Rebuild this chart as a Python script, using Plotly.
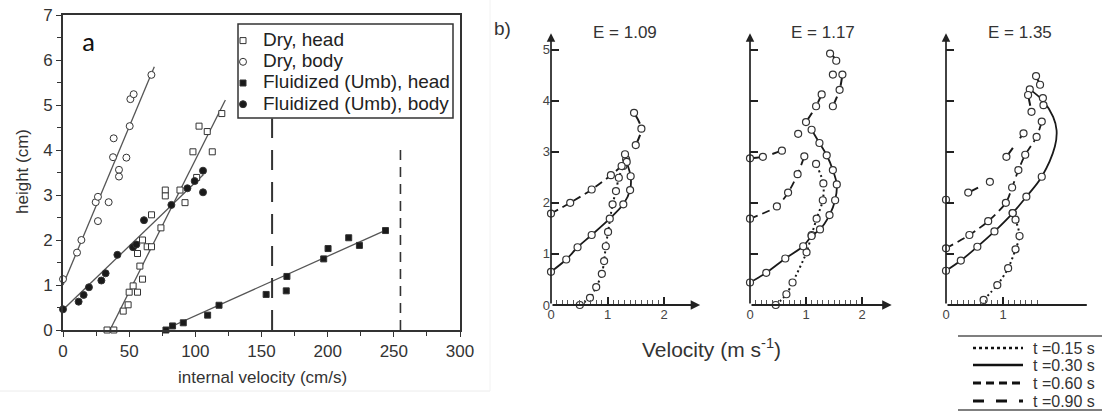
import numpy as np
import plotly.graph_objects as go

W, H = 1102, 412
def X(px): return px / W
def Y(py): return 1 - py / H

FONT = "Liberation Sans, Arial, sans-serif"
INK = "#2b2b2b"

# ---------------- Panel a data ----------------
dry_head_x = [33.3, 38.4, 45.5, 49.2, 50.0, 53.0, 56.3, 60.1, 58.1, 56.3, 60.1, 63.6, 66.9, 66.9, 74.0,
              77.3, 77.3, 88.4, 92.2, 101.0, 98.2, 102.8, 109.0, 112.8, 120.0]
dry_head_y = [0.0, 0.0, 0.42, 0.56, 0.84, 0.98, 0.84, 1.13, 1.42, 1.70, 2.00, 1.85, 1.85, 2.56, 2.27,
              3.11, 2.98, 3.11, 2.83, 3.39, 3.96, 4.53, 4.41, 3.96, 4.81]
dry_body_x = [0.0, 10.6, 13.9, 24.7, 26.4, 26.4, 34.5, 37.8, 38.3, 42.3, 42.3, 47.9, 50.4, 50.9, 53.4, 66.8]
dry_body_y = [1.13, 1.72, 2.00, 2.84, 2.96, 2.42, 2.84, 3.84, 4.26, 3.56, 3.41, 3.83, 4.53, 5.13, 5.24, 5.67]
fl_head_x = [77.8, 82.8, 90.9, 109.3, 117.9, 153.5, 169.2, 168.7, 197.0, 200.3, 215.9, 224.0, 243.7]
fl_head_y = [0.0, 0.09, 0.16, 0.33, 0.55, 0.79, 1.19, 0.87, 1.58, 1.81, 2.05, 1.88, 2.21]
fl_body_x = [0.0, 11.8, 15.6, 19.6, 29.0, 32.2, 41.1, 52.9, 55.4, 61.2, 81.9, 94.0, 99.5, 105.8, 105.8]
fl_body_y = [0.46, 0.63, 0.78, 0.95, 1.10, 1.26, 1.67, 1.84, 1.90, 2.44, 2.78, 3.15, 3.31, 3.54, 3.06]

# fitted lines (end points)
fit_dry_head_x = [35.5, 122.7]; fit_dry_head_y = [0.0, 5.11]
fit_dry_body_x = [0.0, 69.0];   fit_dry_body_y = [1.0, 5.85]
fit_fl_head_x = [76.0, 244.0];  fit_fl_head_y = [0.0, 2.22]
fit_fl_body_x = [0.0, 106.0];   fit_fl_body_y = [0.45, 3.45]

# vertical reference lines
vline1_x = [158, 158]; vline1_y = [0, 4.7]
vline2_x = [255, 255]; vline2_y = [0, 4.0]

legend_a = ["Dry, head", "Dry, body", "Fluidized (Umb), head", "Fluidized (Umb), body"]
xticks_a = [0, 50, 100, 150, 200, 250, 300]
yticks_a = [0, 1, 2, 3, 4, 5, 6, 7]

# ---------------- Panel b data ----------------
E_labels = ["E = 1.09", "E = 1.17", "E = 1.35"]
time_labels = ["t =0.15 s", "t =0.30 s", "t =0.60 s", "t =0.90 s"]

p1_t015_x = [0.51, 0.69, 0.80, 0.90, 0.94, 0.97, 1.01, 1.09, 1.15, 1.20, 1.28, 1.33]
p1_t015_y = [0.00, 0.14, 0.35, 0.61, 0.86, 1.15, 1.43, 1.97, 2.23, 2.49, 2.72, 2.85]
p1_t030_x = [0.00, 0.27, 0.47, 0.72, 1.04, 1.28, 1.40, 1.41, 1.34, 1.31]
p1_t030_y = [0.65, 0.89, 1.13, 1.37, 1.69, 1.97, 2.25, 2.52, 2.80, 2.95]
p1_t060_x = [0.00, 0.34, 0.72, 1.06, 1.25]
p1_t060_y = [1.79, 2.00, 2.26, 2.54, 2.72]
p1_t090_x = [1.50, 1.60, 1.47]
p1_t090_y = [3.13, 3.45, 3.76]

p2_t015_x = [0.46, 0.65, 0.76, 1.01, 1.10, 1.19, 1.30, 1.31, 1.18, None, 0.86]
p2_t015_y = [0.00, 0.21, 0.44, 1.03, 1.37, 1.69, 2.05, 2.38, 2.76, None, 3.35]
p2_t030_x = [0.00, 0.29, 0.63, 0.95, 1.10, 1.25, 1.42, 1.52, 1.55, 1.48, 1.37, 1.24, 1.10]
p2_t030_y = [0.44, 0.63, 0.91, 1.15, 1.35, 1.48, 1.76, 2.05, 2.36, 2.64, 2.93, 3.17, 3.43]
p2_t060_x = [0.00, 0.48, 0.68, 0.85, 0.97]
p2_t060_y = [1.69, 1.93, 2.20, 2.56, 2.91]
p2_t090_x = [0.00, 0.23, 0.57, None, 1.00, 1.18, 1.28, None, 1.43, 1.54, 1.48, None, 1.65, 1.60, 1.48]
p2_t090_y = [2.87, 2.90, 3.02, None, 3.58, 3.89, 4.12, None, 4.92, 4.78, 4.51, None, 4.51, 4.21, 3.89]

p3_t015_x = [0.66, 0.90, 1.09, 1.22, 1.29, 1.22, 1.17]
p3_t015_y = [0.10, 0.39, 0.72, 1.09, 1.35, 1.67, 1.80]
p3_t030_x = [0.00, 0.26, 0.55, 0.85, 1.17, 1.41, 1.68, 1.71, 1.70, 1.47]
p3_t030_y = [0.67, 0.87, 1.14, 1.44, 1.80, 2.12, 2.51, 3.91, 4.05, 4.22]
p3_t030_curve_x = [0.00, 0.26, 0.55, 0.85, 1.17, 1.41, 1.68, 1.91, 1.94, 1.88, 1.70, 1.47]
p3_t030_curve_y = [0.67, 0.87, 1.14, 1.44, 1.80, 2.12, 2.51, 3.10, 3.42, 3.68, 4.00, 4.22]
p3_t060_x = [0.00, 0.41, 0.74, 1.05, 1.16, 1.27, 1.39, 1.59, 1.68]
p3_t060_y = [1.11, 1.37, 1.64, 2.00, 2.30, 2.64, 2.94, 3.29, 3.59]
p3_t090_x = [0.00, None, 0.39, 0.77, None, 1.06, 1.36, None, 1.44, 1.50, None, 1.58, 1.65]
p3_t090_y = [2.06, None, 2.20, 2.41, None, 2.90, 3.36, None, 4.11, 3.78, None, 4.48, 4.31]

xticks_b = [[0, 1, 2], [0, 1, 2], [0, 1]]
hatch_end = [2.0, 1.9, 1.6]
yticks_b = [0, 1, 2, 3, 4, 5]

# ---------------- Figure ----------------
fig = go.Figure()

# Panel a fitted lines
for fx, fy in [(fit_dry_head_x, fit_dry_head_y), (fit_dry_body_x, fit_dry_body_y),
               (fit_fl_head_x, fit_fl_head_y), (fit_fl_body_x, fit_fl_body_y)]:
    fig.add_trace(go.Scatter(x=fx, y=fy, mode="lines", line=dict(color="#555", width=1.3),
                             showlegend=False, hoverinfo="skip", xaxis="x", yaxis="y"))
fig.add_trace(go.Scatter(x=vline1_x, y=vline1_y, mode="lines", showlegend=False,
                         line=dict(color="#333", width=2, dash="20px,12px"), xaxis="x", yaxis="y"))
fig.add_trace(go.Scatter(x=vline2_x, y=vline2_y, mode="lines", showlegend=False,
                         line=dict(color="#333", width=1.6, dash="10px,7px"), xaxis="x", yaxis="y"))

a_series = [
    (dry_head_x, dry_head_y, "square", "white", 6),
    (dry_body_x, dry_body_y, "circle", "white", 7),
    (fl_head_x, fl_head_y, "square", "#1a1a1a", 6),
    (fl_body_x, fl_body_y, "circle", "#1a1a1a", 7),
]
for (sx, sy, sym, fill, sz), name in zip(a_series, legend_a):
    fig.add_trace(go.Scatter(x=sx, y=sy, mode="markers", cliponaxis=False,
                             name="<span style='font-size:19px'>%s</span>" % name,
                             marker=dict(symbol=sym, size=sz, color=fill,
                                         line=dict(color="#333", width=1)),
                             xaxis="x", yaxis="y"))

# Panel b
dashes = ["2px,3px", "solid", "8px,5px", "11px,12px"]
widths = [2.0, 1.8, 1.8, 2.0]
b_panels = [
    [(p1_t015_x, p1_t015_y), (p1_t030_x, p1_t030_y), (p1_t060_x, p1_t060_y), (p1_t090_x, p1_t090_y)],
    [(p2_t015_x, p2_t015_y), (p2_t030_x, p2_t030_y), (p2_t060_x, p2_t060_y), (p2_t090_x, p2_t090_y)],
    [(p3_t015_x, p3_t015_y), (p3_t030_x, p3_t030_y), (p3_t060_x, p3_t060_y), (p3_t090_x, p3_t090_y)],
]
marker_b = dict(symbol="circle", size=7, color="white", line=dict(color="#333", width=1.2))
for pi, series in enumerate(b_panels):
    xa, ya = "x%d" % (pi + 2), "y%d" % (pi + 2)
    for ti, (sx, sy) in enumerate(series):
        if pi == 2 and ti == 1:
            fig.add_trace(go.Scatter(x=p3_t030_curve_x, y=p3_t030_curve_y, mode="lines",
                                     line=dict(color="#1a1a1a", width=widths[ti], shape="spline"),
                                     showlegend=False, xaxis=xa, yaxis=ya, cliponaxis=False))
            fig.add_trace(go.Scatter(x=sx, y=sy, mode="markers", marker=marker_b,
                                     showlegend=False, xaxis=xa, yaxis=ya, cliponaxis=False))
            continue
        fig.add_trace(go.Scatter(x=sx, y=sy, mode="lines+markers", connectgaps=False,
                                 line=dict(color="#1a1a1a", width=widths[ti], dash=dashes[ti],
                                           shape="spline", smoothing=0.8),
                                 marker=marker_b, showlegend=False, xaxis=xa, yaxis=ya,
                                 cliponaxis=False))

# ---------------- Layout ----------------
axis_a = dict(showline=True, mirror=True, linecolor="#333", linewidth=1.6, ticks="outside",
              ticklen=5, tickwidth=1.4, tickcolor="#333", showgrid=False, zeroline=False,
              tickfont=dict(family=FONT, size=17, color="#333"))
layout = dict(
    width=W, height=H, margin=dict(l=0, r=0, t=0, b=0, pad=0, autoexpand=False), autosize=False,
    paper_bgcolor="white", plot_bgcolor="rgba(0,0,0,0)",
    font=dict(family=FONT, color=INK),
    xaxis=dict(axis_a, domain=[X(63), X(460)], range=[0, 300], tickvals=xticks_a, anchor="y",
               minor=dict(dtick=25, ticks="outside", ticklen=4, tickcolor="#333")),
    yaxis=dict(axis_a, domain=[Y(330), Y(15)], range=[0, 7], tickvals=yticks_a, anchor="x",
               minor=dict(dtick=0.5, ticks="outside", ticklen=4, tickcolor="#333")),
    legend=dict(x=X(223), y=Y(25), xanchor="left", yanchor="top", bgcolor="rgba(0,0,0,0)",
                borderwidth=0, font=dict(family=FONT, size=14, color="#222"),
                itemwidth=30, tracegroupgap=0),
    showlegend=True,
)

b_x0 = [551, 750, 946]
b_scale = [56.5, 56.0, 57.0]
b_xmax = [2.64, 2.53, 2.47]
b_y0, b_yscale, b_ymax = 305, 51.1, 5.45
for pi in range(3):
    xa_name, ya_name = "xaxis%d" % (pi + 2), "yaxis%d" % (pi + 2)
    x_end = b_x0[pi] + b_xmax[pi] * b_scale[pi]
    layout[xa_name] = dict(
        domain=[X(b_x0[pi]), X(x_end)], range=[0, b_xmax[pi]], anchor="y%d" % (pi + 2),
        showline=False, showgrid=False, zeroline=False, tickvals=xticks_b[pi],
        ticks="inside", ticklen=8, tickwidth=1.6, tickcolor="#222",
        tickfont=dict(family=FONT, size=13, color="#444"),
        minor=dict(tickvals=[round(v, 2) for v in np.arange(0.1, hatch_end[pi] + 0.001, 0.1)],
                   ticks="inside", ticklen=5, tickwidth=1, tickcolor="#555"),
    )
    layout[ya_name] = dict(
        domain=[Y(b_y0), Y(b_y0 - b_ymax * b_yscale)], range=[0, b_ymax], anchor="x%d" % (pi + 2),
        showline=False, showgrid=False, zeroline=False, tickvals=yticks_b,
        ticks="inside", ticklen=8, tickwidth=1.6, tickcolor="#222",
        showticklabels=(pi == 0), tickfont=dict(family=FONT, size=13, color="#444"),
    )

annotations = []
shapes = []

def label(text, px, py, size, color="#333", **kw):
    d = dict(text=text, x=X(px), y=Y(py), xref="paper", yref="paper", showarrow=False,
             xanchor=kw.pop("xanchor", "center"), yanchor="middle",
             font=dict(size=size, color=color, family=kw.pop("family", FONT)))
    d.update(kw)
    annotations.append(d)

# axis titles & labels for panel a
label("height (cm)", 22, 172, 17, textangle=-90)
label("internal velocity (cm/s)", 262, 377, 17)
label("a", 88, 42, 27, color="#111", family="Carlito, Liberation Sans, sans-serif")
# legend box for panel a
shapes.append(dict(type="rect", xref="paper", yref="paper", x0=X(238), x1=X(453), y0=Y(118), y1=Y(24),
                   line=dict(color="#333", width=1.5), fillcolor="white", layer="above"))
# faint frame around panel a image
shapes.append(dict(type="line", xref="paper", yref="paper", x0=0, x1=X(490), y0=Y(391), y1=Y(391),
                   line=dict(color="#ececec", width=1)))
shapes.append(dict(type="line", xref="paper", yref="paper", x0=X(490), x1=X(490), y0=Y(391), y1=Y(0),
                   line=dict(color="#f2f2f2", width=1)))

# panel b axes (arrows), titles
b_title_px = [625, 823, 1020]
for pi in range(3):
    xa, ya = "x%d" % (pi + 2), "y%d" % (pi + 2)
    annotations.append(dict(text="", x=0, y=5.32, ax=0, ay=0, xref=xa, yref=ya, axref=xa, ayref=ya,
                            showarrow=True, arrowhead=2, arrowsize=1, arrowwidth=1.7, arrowcolor="#222"))
    annotations.append(dict(text="", x=b_xmax[pi], y=0, ax=0, ay=0, xref=xa, yref=ya, axref=xa,
                            ayref=ya, showarrow=True, arrowhead=2 if pi < 2 else 0, arrowsize=1,
                            arrowwidth=1.9, arrowcolor="#222"))
    label(E_labels[pi], b_title_px[pi], 33, 17)
label("b)", 502, 29, 19)
label("Velocity (m s<sup>-1</sup>)", 711, 348, 21)

# panel b legend (time styles)
shapes.append(dict(type="line", xref="paper", yref="paper", x0=X(958), x1=X(1102), y0=Y(336), y1=Y(336),
                   line=dict(color="#555", width=1.5)))
shapes.append(dict(type="line", xref="paper", yref="paper", x0=X(958), x1=X(1102), y0=Y(410), y1=Y(410),
                   line=dict(color="#555", width=1.5)))
leg_rows = [348, 365, 383, 401]
leg_dash = ["3px,3px", "solid", "8px,5px", "11px,12px"]
leg_w = [2.5, 2.5, 3, 3]
for ti, lab in enumerate(time_labels):
    shapes.append(dict(type="line", xref="paper", yref="paper", x0=X(973), x1=X(1023),
                       y0=Y(leg_rows[ti]), y1=Y(leg_rows[ti]),
                       line=dict(color="#111", width=leg_w[ti], dash=leg_dash[ti])))
    label(lab, 1031, leg_rows[ti], 16, xanchor="left")

layout["annotations"] = annotations
layout["shapes"] = shapes
fig.update_layout(**layout)
fig.write_html("out.html", config={"displayModeBar": False},
               post_script="document.body.style.margin='0';document.body.style.overflow='hidden';")
